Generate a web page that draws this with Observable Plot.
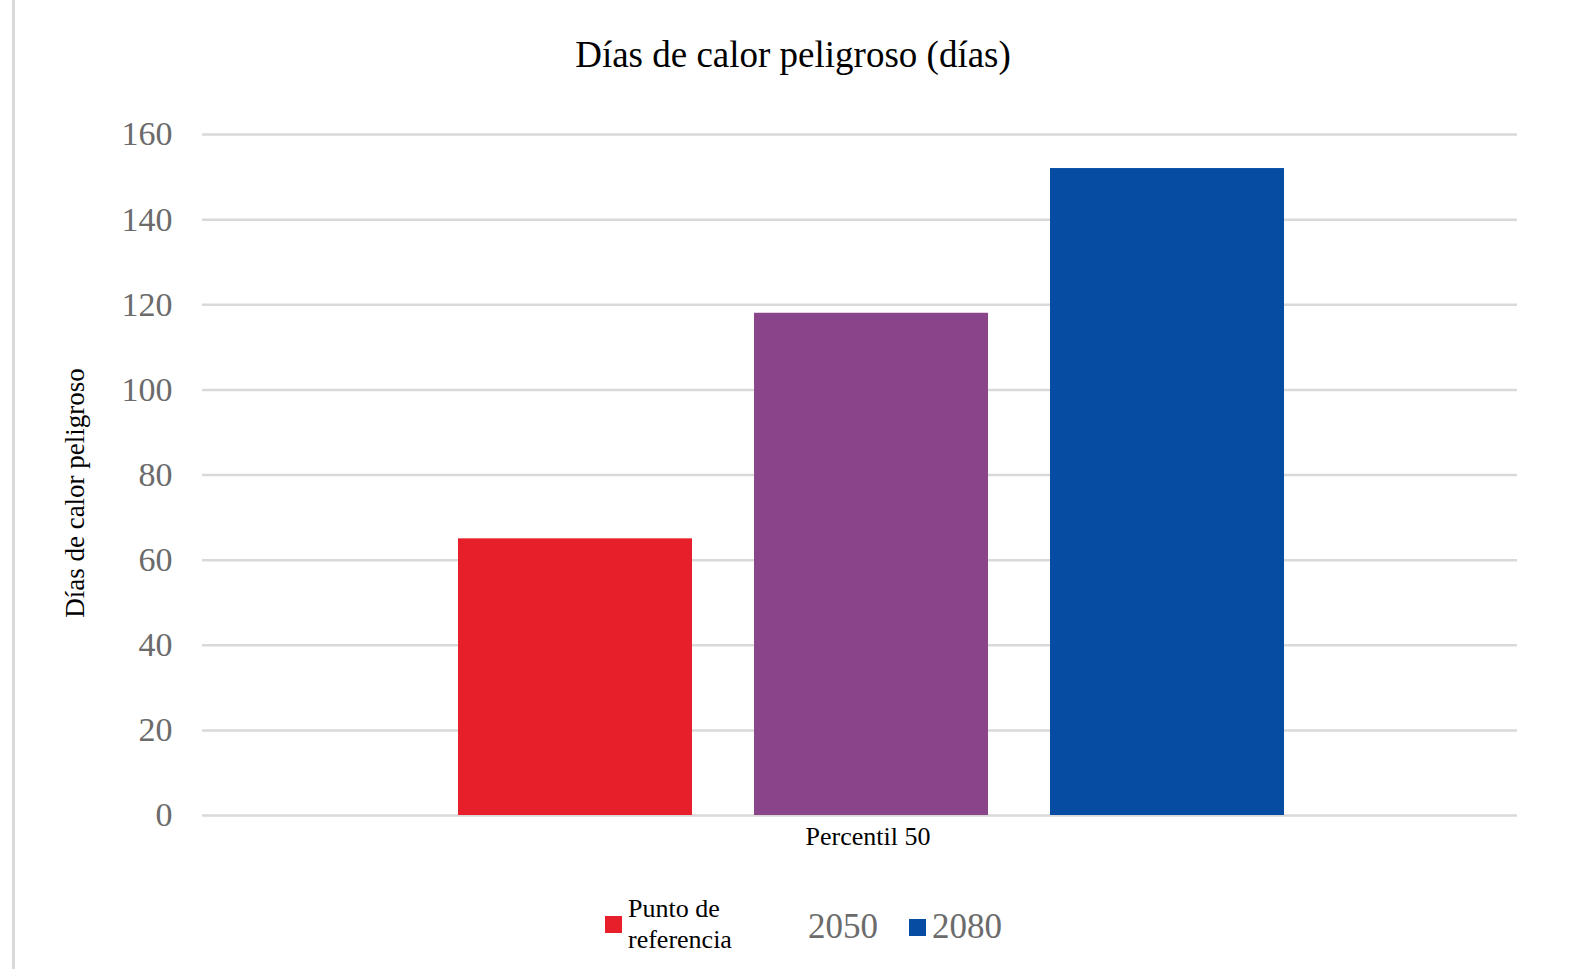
<!DOCTYPE html>
<html>
<head>
<meta charset="utf-8">
<script src="https://cdn.jsdelivr.net/npm/d3@7"></script>
<script src="https://cdn.jsdelivr.net/npm/@observablehq/plot@0.6"></script>
<style>
  html, body { margin: 0; padding: 0; background: #fff; }
  #wrap { position: relative; width: 1591px; height: 969px; overflow: hidden; font-family: 'Liberation Serif', 'Times New Roman', serif; }
  #border { position: absolute; left: 12px; top: 0; width: 3px; height: 969px; background: #d9d9d9; }
  #title { position: absolute; left: 0; width: 1586px; top: 33px; text-align: center; font-size: 37px; color: #000; line-height: 44px; }
  #chart { position: absolute; left: 0; top: 0; }
  .leg { position: absolute; display: flex; align-items: center; }
  .sw { width: 17px; height: 17px; margin-right: 6px; }
  .lt1 { font-size: 26px; line-height: 31px; color: #000; }
  .lt2 { font-size: 35px; color: #6b6b6b; line-height: 40px; }
</style>
</head>
<body>
<div id="wrap">
  <div id="border"></div>
  <div id="chart"></div>
  <div id="title"></div>
  <div id="legend"></div>
</div>
<script>
const titleText = "Días de calor peligroso (días)";
const yLabel = "Días de calor peligroso";
const categories = ["Percentil 50"];
const series = ["Punto de referencia", "2050", "2080"];
const values = [65, 118, 152];
const colors = ["#e61f2a", "#8a448a", "#054ca2"];
const yTicks = [0, 20, 40, 60, 80, 100, 120, 140, 160];

const data = series.map((s, i) => ({category: categories[0], series: s, value: values[i]}));

const chart = Plot.plot({
  width: 1591,
  height: 969,
  marginTop: 134,
  marginBottom: 154,
  marginLeft: 202,
  marginRight: 74,
  style: {fontFamily: "'Liberation Serif', 'Times New Roman', serif", background: "transparent", overflow: "visible"},
  fx: {domain: categories, padding: 0, label: null},
  x: {domain: series, paddingInner: 0.21, paddingOuter: 0.819, align: 0.524, axis: null},
  y: {domain: [0, 160]},
  color: {domain: series, range: colors},
  marks: [
    Plot.gridY(yTicks, {stroke: "#d9d9d9", strokeOpacity: 1, strokeWidth: 2.5}),
    Plot.axisY(yTicks, {tickSize: 0, tickPadding: 30, fontSize: 34, fill: "#6b6b6b", label: null}),
    Plot.axisFx({anchor: "bottom", tickSize: 0, tickPadding: 11, fontSize: 26, fill: "#000", label: null, dx: 8}),
    Plot.text([yLabel], {text: d => d, frameAnchor: "left", textAnchor: "middle", rotate: -90, dx: -127, dy: 18, fontSize: 27, fill: "#000"}),
    Plot.barY(data, {fx: "category", x: "series", y: "value", fill: "series"})
  ]
});
document.getElementById("chart").appendChild(chart);
document.getElementById("title").textContent = titleText;

const legend = document.getElementById("legend");
const legPos = [
  {left: 605, top: 893, cls: "lt1", swatch: true, width: 130},
  {left: 785, top: 907, cls: "lt2", swatch: false},
  {left: 909, top: 907, cls: "lt2", swatch: true}
];
series.forEach((s, i) => {
  const p = legPos[i];
  const item = document.createElement("div");
  item.className = "leg";
  item.style.left = p.left + "px";
  item.style.top = p.top + "px";
  const sw = document.createElement("div");
  sw.className = "sw";
  sw.style.background = p.swatch ? colors[i] : "transparent";
  item.appendChild(sw);
  const t = document.createElement("div");
  t.className = p.cls;
  if (p.width) t.style.width = p.width + "px";
  t.textContent = s;
  item.appendChild(t);
  legend.appendChild(item);
});
</script>
</body>
</html>
